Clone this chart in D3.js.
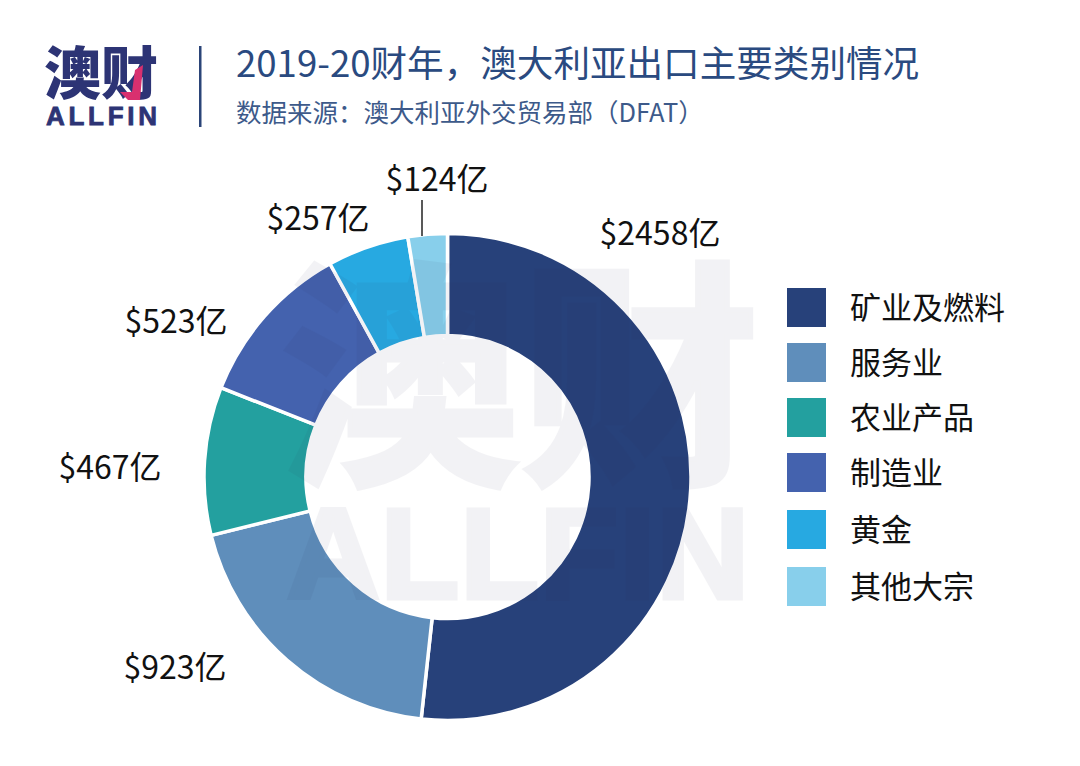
<!DOCTYPE html>
<html>
<head>
<meta charset="UTF-8" />
<title>澳大利亚出口主要类别情况</title>
<script src="https://d3js.org/d3.v7.min.js"></script>
<style>
  html, body { margin: 0; padding: 0; background: #fff; }
  svg { display: block; }
  text { font-family: "Noto Sans CJK SC", "Noto Sans", sans-serif; }
</style>
</head>
<body>
<div id="chart"></div>
<script>
// data
const categories = ['矿业及燃料', '服务业', '农业产品', '制造业', '黄金', '其他大宗'];
const values = [2458, 923, 467, 523, 257, 124];
const valueLabels = ['$2458亿', '$923亿', '$467亿', '$523亿', '$257亿', '$124亿'];
const colors = ['#27417a', '#5f8ebb', '#23a09f', '#4462ae', '#27a9e1', '#88cfeb'];

// label centres, same order as categories
const labelPos = [[660, 231], [175, 665], [110, 465], [176, 319], [318, 216], [437, 177]];
// legend rows are not quite evenly spaced in the original
const legendRows = [307.5, 362.5, 417.5, 472.5, 529.5, 586.5];

const width = 1080, height = 766;
const cx = 447.5, cy = 477, outerR = 243.5, innerR = 141.5;

const svg = d3.select('#chart').append('svg')
  .attr('width', width)
  .attr('height', height);

svg.append('rect').attr('width', width).attr('height', height).attr('fill', '#fff');

// donut
const pie = d3.pie().sort(null).value(d => d);
const arc = d3.arc().innerRadius(innerR).outerRadius(outerR);

svg.append('g')
  .attr('transform', `translate(${cx},${cy})`)
  .selectAll('path')
  .data(pie(values))
  .join('path')
  .attr('d', arc)
  .attr('fill', (d, i) => colors[i])
  .attr('stroke', '#fff')
  .attr('stroke-width', 3.5);

// watermark goes over the donut, very faint
const mark = svg.append('g')
  .attr('fill', '#2b2b55')
  .attr('stroke', '#2b2b55')
  .attr('stroke-width', 5)
  .attr('opacity', 0.055);
mark.append('text')
  .attr('x', 520).attr('y', 466)
  .attr('text-anchor', 'middle')
  .attr('font-size', 240)
  .attr('font-weight', 700)
  .text('澳财');
mark.append('text')
  .attr('x', 287).attr('y', 598)
  .attr('font-size', 128)
  .attr('font-weight', 700)
  .attr('textLength', 462)
  .attr('lengthAdjust', 'spacing')
  .style('font-family', '"Liberation Sans", sans-serif')
  .text('ALLFIN');

// value labels
svg.append('g')
  .selectAll('text')
  .data(valueLabels)
  .join('text')
  .attr('x', (d, i) => labelPos[i][0])
  .attr('y', (d, i) => labelPos[i][1])
  .attr('text-anchor', 'middle')
  .attr('dominant-baseline', 'central')
  .attr('font-size', 32)
  .attr('fill', '#111')
  .text(d => d);

// leader for the small slice
svg.append('line')
  .attr('x1', 422).attr('x2', 422)
  .attr('y1', 200).attr('y2', 236)
  .attr('stroke', '#222')
  .attr('stroke-width', 1.5);

// legend
const legend = svg.append('g')
  .selectAll('g')
  .data(categories)
  .join('g')
  .attr('transform', (d, i) => `translate(787,${legendRows[i]})`);
legend.append('rect')
  .attr('y', -19.5)
  .attr('width', 39)
  .attr('height', 39)
  .attr('fill', (d, i) => colors[i]);
legend.append('text')
  .attr('x', 63)
  .attr('y', -2)
  .attr('dominant-baseline', 'central')
  .attr('font-size', 31)
  .attr('fill', '#111')
  .text(d => d);

// header
svg.append('text')
  .attr('x', 236).attr('y', 77)
  .attr('font-size', 36.6)
  .attr('fill', '#2a4a80')
  .text('2019-20财年，澳大利亚出口主要类别情况');
svg.append('text')
  .attr('x', 236).attr('y', 122)
  .attr('font-size', 25.5)
  .attr('fill', '#3d5a8a')
  .text('数据来源：澳大利亚外交贸易部（DFAT）');
svg.append('rect')
  .attr('x', 199).attr('y', 46)
  .attr('width', 2.5).attr('height', 81)
  .attr('fill', '#2b4478');

// logo
svg.append('text')
  .attr('x', 44).attr('y', 94)
  .attr('font-size', 57)
  .attr('font-weight', 900)
  .attr('fill', '#2d3475')
  .text('澳财');
svg.append('path')
  .attr('d', 'M135,70L143,65L140,100L128,100L120,92L132,92Z')
  .attr('fill', '#d9306f');
svg.append('text')
  .attr('x', 46).attr('y', 125)
  .attr('font-size', 26)
  .attr('font-weight', 700)
  .attr('textLength', 111)
  .attr('lengthAdjust', 'spacing')
  .attr('fill', '#2d3475')
  .attr('stroke', '#2d3475')
  .attr('stroke-width', 0.8)
  .style('font-family', '"Liberation Sans", sans-serif')
  .text('ALLFIN');
</script>
</body>
</html>
